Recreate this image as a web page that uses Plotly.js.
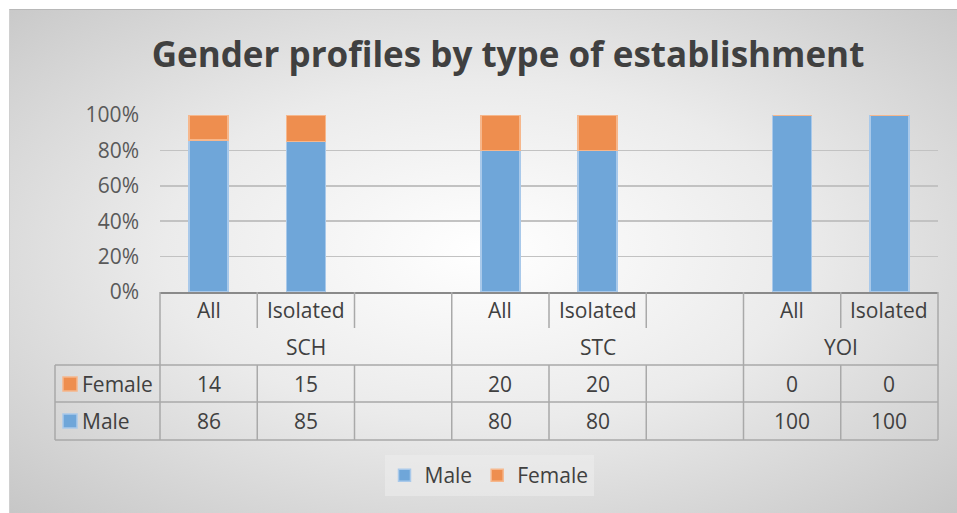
<!DOCTYPE html>
<html>
<head>
<meta charset="utf-8">
<script src="https://cdn.plot.ly/plotly-3.0.1.min.js"></script>
<style>
  html, body { margin: 0; padding: 0; background: #ffffff; }
  #wrap { position: relative; width: 957px; height: 513px; overflow: hidden; }
  #bg { position: absolute; left: 9px; top: 9px; width: 948px; height: 504px;
        background: radial-gradient(ellipse 75% 75% at 50% 48%, #ffffff 0%, #ebebeb 45%, #c4c4c4 100%);
        border-top: 1px solid #b8b8b8; border-left: 1px solid #d0d0d0; box-sizing: border-box; }
  #chart { position: absolute; left: 0; top: 0; width: 957px; height: 513px; }
</style>
</head>
<body>
<div id="wrap"><div id="bg"></div><div id="chart"></div></div>
<script>
// ---- data ----
const categories = ['All', 'Isolated', '', 'All', 'Isolated', '', 'All', 'Isolated'];
const groupLabels = ['SCH', 'STC', 'YOI'];
const groupCenters = [1, 4, 6.5];
const male = [86, 85, null, 80, 80, null, 100, 100];
const female = [14, 15, null, 20, 20, null, 0, 0];
const yTicks = [0, 20, 40, 60, 80, 100];

// ---- layout helpers (pixel -> paper) ----
const W = 957, H = 513;
const L = 160, R = 938, T = 115, B = 292;
const px = p => (p - L) / (R - L);
const py = p => (B - p) / (B - T);
const n = categories.length;
const colBound = i => i / n; // paper x of column boundary i

const xIdx = categories.map((c, i) => i);
const blue = '#6fa6d9', orange = '#ee8e4f';
const textColor = '#404040';
const font = 'Open Sans, Noto Sans, sans-serif';
const lineCol = '#a9a9a9';

const traces = [
  { type: 'bar', name: 'Male', x: xIdx, y: male,
    marker: { color: blue, line: { color: '#a9c9ea', width: 1.5 } } },
  { type: 'bar', name: 'Female', x: xIdx, y: female,
    marker: { color: orange, line: { color: '#f6b78c', width: 1.5 } } }
];

const shapes = [];
const ln = (x0, y0, x1, y1, color, width) => shapes.push({
  type: 'line', xref: 'paper', yref: 'paper', x0, y0, x1, y1,
  line: { color: color || lineCol, width: width || 1.5 }, layer: 'above'
});

// table row boundaries
const rowCatTop = 292, rowCatBot = 328, rowGrpBot = 365, rowFemBot = 402, rowMaleBot = 440;
ln(px(55), py(rowGrpBot), 1, py(rowGrpBot));
ln(px(55), py(rowFemBot), 1, py(rowFemBot));
ln(px(55), py(rowMaleBot), 1, py(rowMaleBot));
ln(px(55), py(rowGrpBot), px(55), py(rowMaleBot));
// column boundaries
const groupStarts = [0, 3, 6];
for (let i = 0; i <= n; i++) {
  const full = groupStarts.includes(i) || i === n;
  if (full) {
    ln(colBound(i), py(rowCatTop), colBound(i), py(rowMaleBot));
  } else {
    ln(colBound(i), py(rowCatTop), colBound(i), py(rowCatBot));
    ln(colBound(i), py(rowGrpBot), colBound(i), py(rowMaleBot));
  }
}
// row keys
const keyRect = (yc, color, lc) => shapes.push({
  type: 'rect', xref: 'paper', yref: 'paper',
  x0: px(63), x1: px(77), y0: py(yc - 7), y1: py(yc + 7),
  fillcolor: color, line: { color: lc, width: 1.5 }, layer: 'above'
});
const femY = 384, maleY = 421, catY = 310, grpY = 347;
keyRect(femY, orange, '#f6b78c');
keyRect(maleY, blue, '#a9c9ea');

const annotations = [];
const ann = (x, xref, y, text, xanchor) => annotations.push({
  x, xref, y: py(y), yref: 'paper', text, showarrow: false,
  xanchor: xanchor || 'center', yanchor: 'middle',
  font: { family: font, size: 21, color: textColor }
});
categories.forEach((c, i) => { if (c) ann(i, 'x', catY, c); });
groupLabels.forEach((g, i) => ann(groupCenters[i], 'x', grpY, g));
female.forEach((v, i) => { if (v !== null) ann(i, 'x', femY, String(v)); });
male.forEach((v, i) => { if (v !== null) ann(i, 'x', maleY, String(v)); });
ann(px(80), 'paper', femY, 'Female', 'left');
ann(px(80), 'paper', maleY, 'Male', 'left');

const layout = {
  width: W, height: H,
  margin: { l: L, r: W - R, t: T, b: H - B, pad: 0 },
  paper_bgcolor: 'rgba(0,0,0,0)',
  plot_bgcolor: 'rgba(0,0,0,0)',
  barmode: 'stack',
  bargap: 0.6,
  title: {
    text: '<b>Gender profiles by type of establishment</b>',
    font: { family: font, size: 35, color: textColor },
    xref: 'container', x: 508 / W, xanchor: 'center',
    yref: 'container', y: 1 - 55 / H, yanchor: 'middle'
  },
  xaxis: {
    range: [-0.5, n - 0.5], showticklabels: false, showgrid: false,
    zeroline: false, showline: true, linecolor: '#8a8a8a', linewidth: 2,
    fixedrange: true
  },
  yaxis: {
    range: [0, 100], tickvals: yTicks, ticktext: yTicks.map(v => v + '%'),
    showgrid: true, gridcolor: '#c2c2c2', gridwidth: 1.5, zeroline: false,
    showline: false, ticks: '', ticklabelstandoff: 20,
    tickfont: { family: font, size: 21, color: '#595959' }
  },
  legend: {
    orientation: 'h', traceorder: 'normal',
    x: px(489), xanchor: 'center', y: py(455), yanchor: 'top',
    bgcolor: 'rgba(236,236,236,0.6)',
    font: { family: font, size: 21, color: textColor }
  },
  shapes, annotations
};

Plotly.newPlot('chart', traces, layout, { displayModeBar: false, staticPlot: true });
</script>
</body>
</html>
